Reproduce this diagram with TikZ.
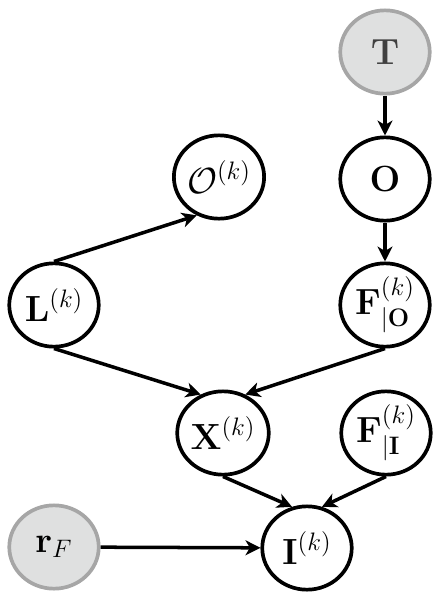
\documentclass[tikz,border=0pt]{standalone}
\usepackage{amsmath}
\usepackage{xcolor}
\usepackage{tikz}
\usetikzlibrary{positioning,arrows.meta,shapes.geometric}

\definecolor{obsfill}{HTML}{DFE0E0}
\definecolor{obsdraw}{HTML}{A6A6A6}

\begin{document}
\begin{tikzpicture}[
  x=0.57pt, y=-0.57pt,
  var/.style={ellipse, draw=black, line width=2.1pt, minimum width=51pt, minimum height=47.5pt, inner sep=0pt, font=\huge},
  obs/.style={var, draw=obsdraw, fill=obsfill},
  link/.style={-{Stealth[length=8.5pt,width=8.5pt,inset=2.5pt]}, line width=2pt}
]
\useasboundingbox (0,0) rectangle (446,600);
\node[obs] (T) at (385,52) {\color{black!75}$\mathbf{T}$};
\node[var] (O) at (385,179) {$\mathbf{O}$};
\node[var] (Ok) at (219,177) {$\mathcal{O}^{(k)}$};
\node[var] (L) at (54,305) {$\mathbf{L}^{(k)}$};
\node[var] (FO) at (385,305) {$\mathbf{F}^{(k)}_{|\mathbf{O}}$};
\node[var] (X) at (223,433) {$\mathbf{X}^{(k)}$};
\node[var] (FI) at (386,433) {$\mathbf{F}^{(k)}_{|\mathbf{I}}$};
\node[obs] (rF) at (54,547) {$\mathbf{r}_F$};
\node[var] (I) at (307,548) {$\mathbf{I}^{(k)}$};
\draw[link] (T) -- (O);
\draw[link] (O) -- (FO);
\draw[link] (L.north) -- (Ok.240);
\draw[link] (L.south) -- (X.120);
\draw[link] (FO.south) -- (X.60);
\draw[link] (X.south) -- (I.110);
\draw[link] (FI.south) -- (I.70);
\draw[link] (rF) -- (I);
\end{tikzpicture}
\end{document}
